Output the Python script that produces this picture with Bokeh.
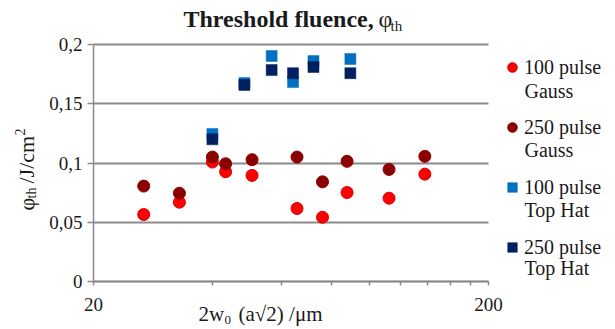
import math
from bokeh.plotting import figure
from bokeh.models import FixedTicker, Label, Legend, LegendItem, Range1d
from bokeh.embed import file_html
from bokeh.resources import INLINE

# ---- data ----
gauss_x = [26.8, 33.0, 40.0, 43.2, 50.4, 65.5, 76.0, 87.7, 112.0, 138.0]
gauss_100 = [0.0565, 0.0669, 0.1008, 0.0926, 0.0895, 0.0616, 0.0542, 0.0751, 0.0703, 0.0906]
gauss_250 = [0.0805, 0.0745, 0.1050, 0.0994, 0.1028, 0.1050, 0.0841, 0.1014, 0.0946, 0.1056]
tophat_x = [40.0, 48.2, 56.5, 64.0, 72.1, 89.4]
tophat_100 = [0.1245, 0.1675, 0.1903, 0.1683, 0.1860, 0.1878]
tophat_250 = [0.1200, 0.1658, 0.1784, 0.1758, 0.1810, 0.1758]

y_ticks = [0, 0.05, 0.1, 0.15, 0.2]
y_tick_labels = ["0", "0,05", "0,1", "0,15", "0,2"]
x_ticks = [20, 200]
x_minor_ticks = [40, 60, 80, 100, 120, 140, 160, 180]
legend_line1 = ["100 pulse", "250 pulse", "100 pulse", "250 pulse"]
legend_line2 = ["Gauss", "Gauss", "Top Hat", "Top Hat"]

X_MIN, X_MAX = 20, 200
Y_MIN, Y_MAX = 0.0, 0.2

# ---- layout: the frame covers the whole canvas, axes sit at fixed locations ----
W, H = 615, 329
AX_L, AX_R, AX_T, AX_B = 93, 488, 44, 281          # plot-area edges in pixels
dec = (AX_R - AX_L) / math.log10(X_MAX / X_MIN)    # pixels per decade
x_lo = X_MIN * 10 ** (-AX_L / dec)
x_hi = X_MAX * 10 ** ((W - AX_R) / dec)
ypp = (Y_MAX - Y_MIN) / (AX_B - AX_T)              # data per pixel
y_lo = Y_MIN - (H - AX_B) * ypp
y_hi = Y_MAX + AX_T * ypp

SERIF = "Liberation Serif"
GRAY = "#8a8a8a"
TXT = "#1a1a1a"

p = figure(width=W, height=H, x_axis_type="log", output_backend="svg",
           toolbar_location=None, x_range=Range1d(x_lo, x_hi), y_range=Range1d(y_lo, y_hi),
           min_border=0, min_border_left=0, min_border_right=0, min_border_top=0, min_border_bottom=0)
p.title = None
p.outline_line_color = None
p.background_fill_color = "white"
p.border_fill_color = "white"

# axes
p.yaxis.fixed_location = X_MIN
p.yaxis.bounds = (Y_MIN, Y_MAX)
p.xaxis.fixed_location = Y_MIN
p.xaxis.bounds = (X_MIN, X_MAX)
p.yaxis.ticker = FixedTicker(ticks=y_ticks)
p.yaxis.major_label_overrides = {t: l for t, l in zip(y_ticks, y_tick_labels)}
p.xaxis.ticker = FixedTicker(ticks=x_ticks, minor_ticks=x_minor_ticks)
p.xaxis.major_label_overrides = {20: "20", 200: "200"}
for ax in (p.xaxis, p.yaxis):
    ax.axis_line_color = GRAY
    ax.axis_line_width = 1.5
    ax.major_tick_line_color = GRAY
    ax.major_tick_line_width = 1.5
    ax.minor_tick_line_color = GRAY
    ax.minor_tick_line_width = 1.5
    ax.major_tick_in = 0
    ax.minor_tick_in = 0
    ax.major_label_text_font = SERIF
    ax.major_label_text_font_size = "19px"
    ax.major_label_text_color = TXT
p.yaxis.major_tick_out = 6
p.yaxis.minor_tick_out = 0
p.yaxis.major_label_standoff = 5
p.xaxis.major_tick_out = 4
p.xaxis.minor_tick_out = 4
p.xaxis.major_label_standoff = 12

p.xgrid.visible = False
p.ygrid.ticker = FixedTicker(ticks=y_ticks)
p.ygrid.bounds = (Y_MIN, Y_MAX)
p.ygrid.cross_bounds = (X_MIN, X_MAX)
p.ygrid.grid_line_color = GRAY
p.ygrid.grid_line_width = 1.8

# data marks
r1 = p.scatter(gauss_x, gauss_100, marker="circle", size=12, fill_color="#ff0000", line_color="#d40000", line_width=1)
r2 = p.scatter(gauss_x, gauss_250, marker="circle", size=12, fill_color="#8b0000", line_color="#8b0000", line_width=1)
r3 = p.scatter(tophat_x, tophat_100, marker="square", size=11, fill_color="#0070c0", line_color="#0070c0", line_width=0.5)
r4 = p.scatter(tophat_x, tophat_250, marker="square", size=11, fill_color="#002060", line_color="#002060", line_width=0.5)

legend = Legend(items=[LegendItem(label=l, renderers=[r]) for l, r in zip(legend_line1, [r1, r2, r3, r4])],
                location=(500, H - 259), orientation="vertical",
                label_text_font=SERIF, label_text_font_size="20px", label_text_color=TXT,
                glyph_width=24, glyph_height=24, label_height=24, label_standoff=0, spacing=36,
                padding=0, margin=0, border_line_color=None, background_fill_alpha=0)
p.add_layout(legend, "center")

# texts: (px, py) = intended centre line position in picture pixels from top-left
def lab(text, px, py, size, bold=False, angle=0.0):
    p.add_layout(Label(x=px, y=H - py, x_units="screen", y_units="screen", text=text,
                       text_font=SERIF, text_font_size=size, text_color=TXT,
                       text_font_style="bold" if bold else "normal", angle=angle,
                       text_align="left", text_baseline="alphabetic"))

# second lines of the legend entries
for txt, cy in zip(legend_line2, [90, 149, 209, 267]):
    lab(txt, 524, cy, "20px")

# title
lab("Threshold fluence,", 183, 18, "24px", bold=True)
lab("φ", 378, 18, "24px")
lab("th", 390, 25, "15px")

# x axis title
lab("2w", 198, 313, "21px")
lab("0", 224, 319, "13px")
lab("(a√2) /μm", 238, 313, "21px")

# y axis title (rotated, reading upward)
ang = math.pi / 2
lab("φ", 26, 210, "22px", angle=ang)
lab("th", 31, 198, "14px", angle=ang)
lab("/J/cm", 26, 183, "22px", angle=ang)
lab("2", 19, 135, "14px", angle=ang)

open("out.html", "w").write(file_html(p, INLINE))
